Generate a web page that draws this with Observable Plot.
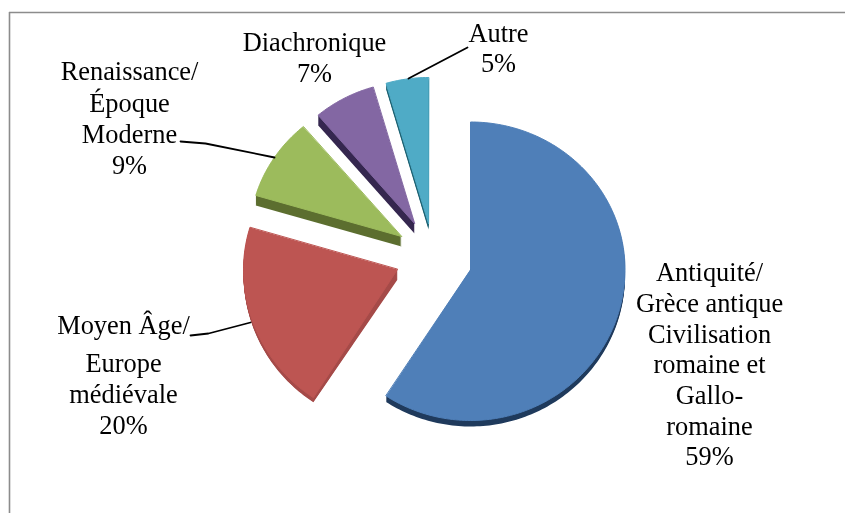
<!DOCTYPE html>
<html>
<head>
<meta charset="utf-8">
<script src="https://cdn.jsdelivr.net/npm/d3@7"></script>
<script src="https://cdn.jsdelivr.net/npm/@observablehq/plot@0.6"></script>
<style>html,body{margin:0;padding:0;background:#fff}svg{display:block;filter:blur(0.3px)}</style>
</head>
<body>
<div id="chart"></div>
<script>
// Data
const categories = [
  "Antiquité/\nGrèce antique\nCivilisation\nromaine et\nGallo-\nromaine",
  "Moyen Âge/\nEurope\nmédiévale",
  "Renaissance/\nÉpoque\nModerne",
  "Diachronique",
  "Autre"
];
const shares = [59.2, 20.4, 9.2, 6.7, 4.5];

// Styles
const faceColors = ["#4f7fb8", "#bd5552", "#9cbb5c", "#8367a3", "#4fabc6"];
const sideColors = ["#1f3a5c", "#a54a48", "#5c6e2f", "#35274f", "#1d6273"];

// Layout of the exploded slices (pixel space of the identity scales)
const apexX = [470, 397, 401, 414, 428];
const apexY = [269, 269, 236, 223, 223];
const depths = [6, 10, 10, 10, 6];
const arcDepthFactor = [1, 0.45, 1, 1, 1];
const radiusX = [154.5, 154, 152, 149, 152];
const radiusUp = [147.5, 147, 144, 142, 146];
const radiusDown = [151, 153, 148, 148, 148];
const labelX = [709, 123, 129, 314, 498];
const labelYs = [
  [272, 303, 334, 364, 395, 426, 456],
  [325, 363, 394, 425],
  [71, 103, 134, 165],
  [42, 73],
  [33, 63]
];
const leaders = [
  [[467, 47], [408, 78]],
  [[190, 335], [208, 333], [250, 322]],
  [[180, 141], [205, 143], [274, 157]]
];

// Build slice outlines from the shares
const total = d3.sum(shares);
let cum = 0;
const slices = shares.map((v, i) => {
  const a0 = cum / total * 2 * Math.PI;
  cum += v;
  const a1 = cum / total * 2 * Math.PI;
  return {i, a0, a1};
});
function outline(s, dApex, dArc, key) {
  const i = s.i;
  const n = Math.ceil((s.a1 - s.a0) / 0.02);
  const pts = [{x: apexX[i], y: apexY[i] + dApex, key}];
  for (let k = 0; k <= n; k++) {
    const a = s.a0 + (s.a1 - s.a0) * k / n;
    const c = Math.cos(a);
    pts.push({
      x: apexX[i] + radiusX[i] * Math.sin(a),
      y: apexY[i] + dArc - (c > 0 ? radiusUp[i] : radiusDown[i]) * c,
      key
    });
  }
  return pts;
}
const facePts = slices.flatMap(s => outline(s, 0, 0, s.i).map(p => ({...p, fill: faceColors[s.i]})));
const sidePts = slices.flatMap(s => d3.range(1, depths[s.i] + 1).flatMap(d =>
  outline(s, d, d * arcDepthFactor[s.i], `${s.i}-${d}`).map(p => ({...p, fill: sideColors[s.i]}))));

const labelRows = categories.flatMap((c, i) => {
  const lines = [...c.split("\n"), `${Math.round(shares[i])}%`];
  return lines.map((t, j) => ({t, x: labelX[i], y: labelYs[i][j]}));
});
const leaderPts = leaders.flatMap((l, k) => l.map(([x, y]) => ({x, y, k})));

const chart = Plot.plot({
  width: 845, height: 513, margin: 0,
  x: {domain: [0, 845], range: [0, 845], axis: null},
  y: {domain: [0, 513], range: [0, 513], axis: null},
  color: {type: "identity"},
  style: {background: "#fff", fontFamily: "'Liberation Serif', serif"},
  marks: [
    Plot.ruleX([9], {y1: 12, y2: 513, stroke: "#8c8c8c", strokeWidth: 1.6}),
    Plot.ruleY([12], {x1: 9, x2: 845, stroke: "#8c8c8c", strokeWidth: 1.6}),
    Plot.line(sidePts, {x: "x", y: "y", z: "key", fill: "fill", stroke: "none", curve: "linear-closed"}),
    Plot.line(facePts, {x: "x", y: "y", z: "key", fill: "fill", stroke: "fill", strokeWidth: 1, curve: "linear-closed"}),
    Plot.line(leaderPts, {x: "x", y: "y", z: "k", stroke: "#000", strokeWidth: 1.8}),
    Plot.text(labelRows, {x: "x", y: "y", text: "t", fontSize: 26.4, fill: "#000", textAnchor: "middle"})
  ]
});
document.getElementById("chart").append(chart);
</script>
</body>
</html>
